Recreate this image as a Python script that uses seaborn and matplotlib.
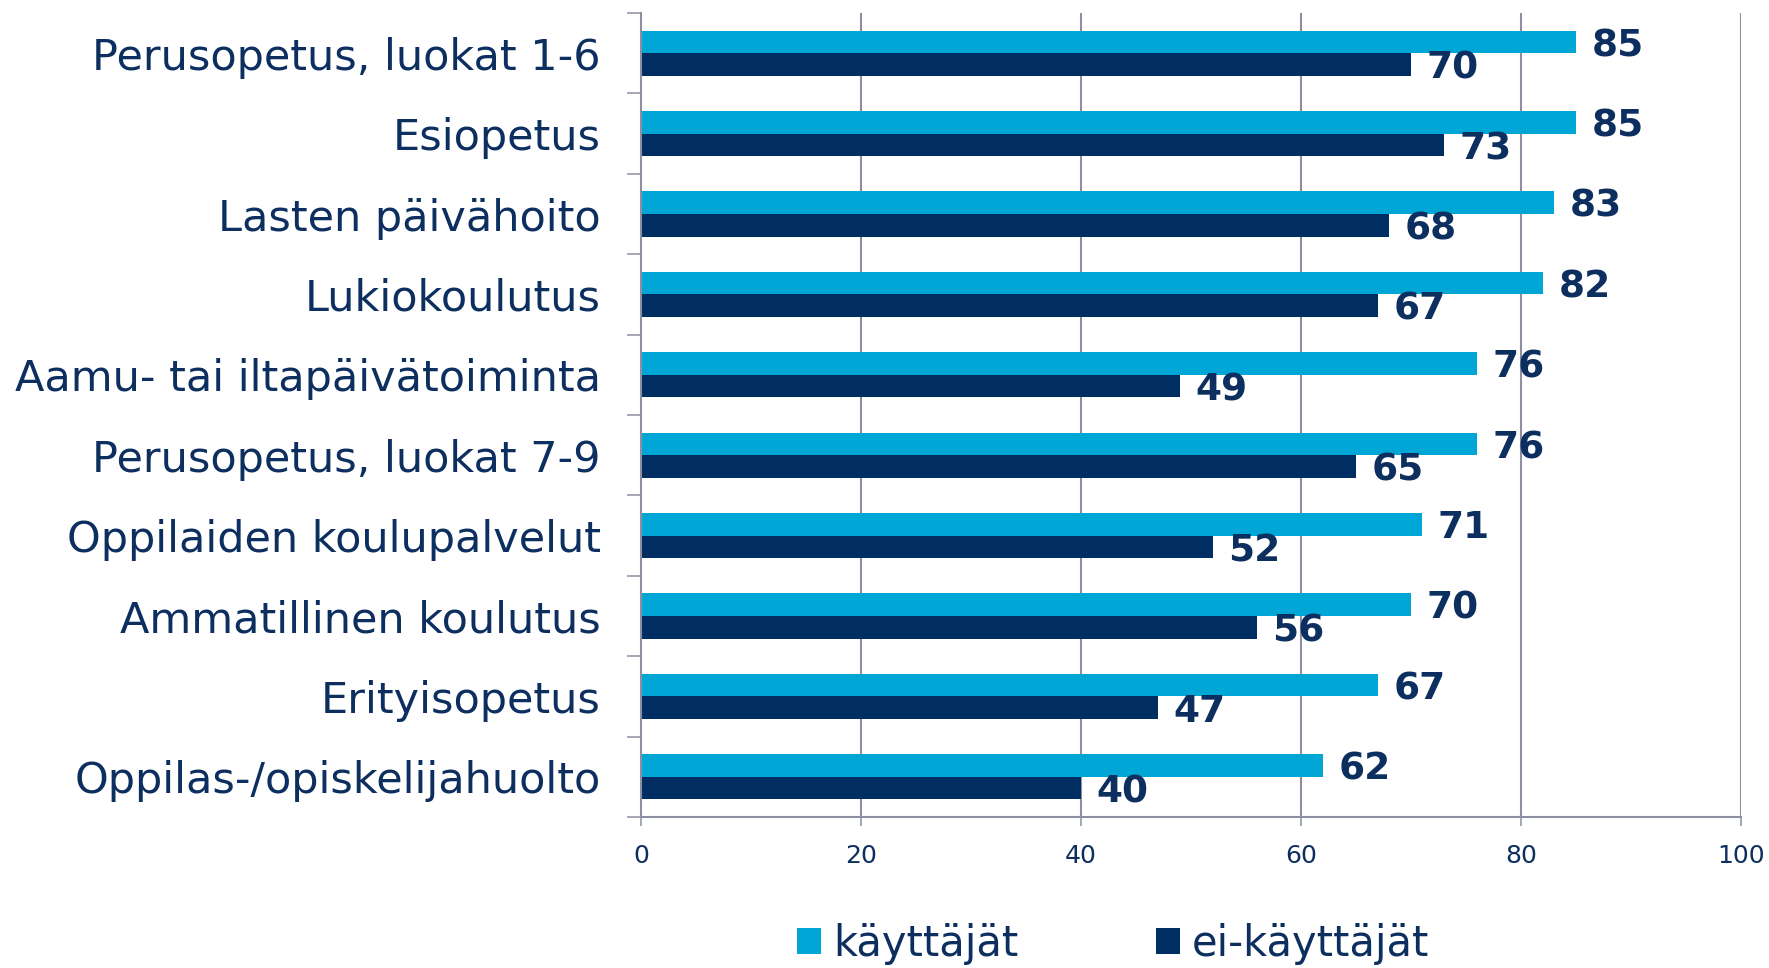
import matplotlib
matplotlib.use("Agg")
import matplotlib.pyplot as plt
import seaborn as sns
import pandas as pd
from matplotlib.ticker import FixedLocator

categories = ["Perusopetus, luokat 1-6", "Esiopetus", "Lasten päivähoito",
              "Lukiokoulutus", "Aamu- tai iltapäivätoiminta",
              "Perusopetus, luokat 7-9", "Oppilaiden koulupalvelut",
              "Ammatillinen koulutus", "Erityisopetus",
              "Oppilas-/opiskelijahuolto"]
series_names = ["käyttäjät", "ei-käyttäjät"]
kayttajat = [85, 85, 83, 82, 76, 76, 71, 70, 67, 62]
ei_kayttajat = [70, 73, 68, 67, 49, 65, 52, 56, 47, 40]
x_ticks = [0, 20, 40, 60, 80, 100]

LIGHT = "#00A6D6"
DARK = "#002E63"
NAVY = "#0D2F60"
GRID = "#8C90A2"

sns.set_theme(style="white")
plt.rcParams['font.family'] = ['DejaVu Sans']

df = pd.DataFrame({
    "cat": categories * 2,
    "series": [series_names[0]] * len(categories) + [series_names[1]] * len(categories),
    "val": kayttajat + ei_kayttajat,
})

fig = plt.figure(figsize=(17.69, 9.68), dpi=100)
ax = fig.add_axes([641 / 1769, 1 - 817 / 968, 1100 / 1769, 804 / 968])

sns.barplot(data=df, y="cat", x="val", hue="series", orient="h",
            palette=[LIGHT, DARK], saturation=1, width=0.5625, linewidth=0,
            order=categories, hue_order=series_names, ax=ax, legend=True, zorder=3)

ax.set_xlim(0, 100)
ax.set_ylim(len(categories) - 0.5, -0.5)
ax.set_xticks(x_ticks)
ax.set_xticklabels([str(t) for t in x_ticks])
ax.set_xlabel("")
ax.set_ylabel("")

# grid and spines
ax.grid(False)
for t in x_ticks[1:]:
    ax.axvline(t, color=GRID, lw=1.5, zorder=1)
for s in ["top", "right"]:
    ax.spines[s].set_visible(False)
for s in ["left", "bottom"]:
    ax.spines[s].set_color(GRID)
    ax.spines[s].set_linewidth(1.5)
    ax.spines[s].set_zorder(4)

ax.tick_params(axis="x", which="major", direction="out", length=6.5, width=1.1,
               color=GRID, labelsize=18, labelcolor=NAVY, pad=13, bottom=True)
ax.tick_params(axis="y", which="major", length=0, labelsize=31, labelcolor=NAVY, pad=29, left=True)
ax.yaxis.set_minor_locator(FixedLocator([i - 0.5 for i in range(len(categories) + 1)]))
ax.tick_params(axis="y", which="minor", direction="out", length=10, width=1.1,
               color=GRID, left=True)

# data labels
for cont, vals in zip(ax.containers, [kayttajat, ei_kayttajat]):
    texts = ax.bar_label(cont, labels=[str(v) for v in vals], padding=11, fontsize=27,
                         fontweight="bold", color=NAVY)
    for t in texts:
        t.xyann = (t.xyann[0], t.xyann[1] - 3)

# legend
handles, labels = ax.get_legend_handles_labels()
if ax.legend_:
    ax.legend_.remove()
fig.legend(handles, labels, loc="center left",
           bbox_to_anchor=(797 / 1769, 1 - 944 / 968), ncol=2, frameon=False,
           fontsize=30, labelcolor=NAVY, handlelength=0.58, handleheight=0.58,
           handletextpad=0.29, columnspacing=3.3, borderpad=0, borderaxespad=0)

fig.savefig("out.png", dpi=100)
